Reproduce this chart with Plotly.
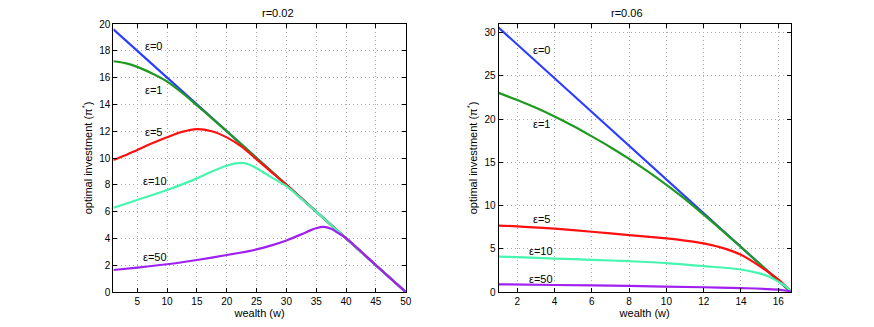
import plotly.graph_objects as go
from plotly.subplots import make_subplots

# ---------------- data: r = 0.02 (left panel) ----------------
L_eps0_x = [1, 50]
L_eps0_y = [19.6, 0]

L_eps1_x = [1, 3, 5, 7.5, 10, 12.5, 15, 17.5, 20, 25, 30, 40, 50]
L_eps1_y = [17.22, 17.08, 16.8, 16.3, 15.7, 14.87, 13.93, 12.97, 12.0, 10.0, 8.0, 4.0, 0]

L_eps5_x = [1, 3, 5, 7.5, 10, 12.5, 15, 17.5, 20, 22.5, 25, 27.5, 30, 40, 50]
L_eps5_y = [9.85, 10.2, 10.6, 11.1, 11.55, 11.95, 12.16, 12.0, 11.54, 10.85, 9.9, 8.95, 8.0, 4.0, 0]

L_eps10_x = [1, 5, 10, 15, 17.5, 18.75, 20, 21.25, 22.5, 23.75, 25, 26.25, 27.5, 30, 32.5, 35, 40, 50]
L_eps10_y = [6.29, 6.87, 7.61, 8.48, 9.0, 9.22, 9.42, 9.58, 9.64, 9.52, 9.24, 8.9, 8.55, 7.9, 6.96, 6.0, 4.0, 0]

L_eps50_x = [1, 5, 10, 15, 20, 25, 27.5, 30, 32.5, 34, 35, 36.2, 37.5, 38.5, 40, 45, 50]
L_eps50_y = [1.64, 1.82, 2.07, 2.39, 2.76, 3.18, 3.48, 3.85, 4.3, 4.6, 4.76, 4.86, 4.72, 4.45, 4.02, 2.0, 0]

# ---------------- data: r = 0.06 (right panel) ----------------
R_eps0_x = [1, 16.667]
R_eps0_y = [30.58, 0]

R_eps1_x = [1, 2, 3, 4, 5, 6, 7, 8, 9, 10, 11, 12, 13, 14, 15, 16, 16.667]
R_eps1_y = [23.03, 22.2, 21.3, 20.3, 19.2, 18.0, 16.75, 15.4, 13.95, 12.4, 10.75, 8.95, 7.1, 5.2, 3.25, 1.3, 0.05]

R_eps5_x = [1, 2, 4, 6, 8, 10, 11, 12, 13, 14, 15, 16, 16.667]
R_eps5_y = [7.67, 7.6, 7.32, 6.97, 6.58, 6.2, 5.95, 5.62, 5.1, 4.3, 3.0, 1.45, 0.1]

R_eps10_x = [1, 2, 4, 6, 8, 10, 12, 14, 15, 15.5, 16, 16.4, 16.667]
R_eps10_y = [4.1, 4.03, 3.87, 3.72, 3.56, 3.35, 3.0, 2.6, 2.15, 1.8, 1.2, 0.65, 0.1]

R_eps50_x = [1, 4, 8, 12, 14, 16, 16.667]
R_eps50_y = [0.89, 0.81, 0.7, 0.55, 0.45, 0.28, 0.08]

eps_labels = ["ε=0", "ε=1", "ε=5", "ε=10", "ε=50"]
L_label_x = [7.8, 7.8, 7.8, 8.0, 8.0]
L_label_y = [18.36, 15.07, 11.96, 8.32, 2.6]
R_label_x = [3.3, 3.3, 3.3, 3.3, 3.3]
R_label_y = [27.95, 19.47, 8.44, 4.78, 1.55]

L_xticks = [5, 10, 15, 20, 25, 30, 35, 40, 45, 50]
L_yticks = [0, 2, 4, 6, 8, 10, 12, 14, 16, 18, 20]
R_xticks = [2, 4, 6, 8, 10, 12, 14, 16]
R_yticks = [0, 5, 10, 15, 20, 25, 30]

titles = ["r=0.02", "r=0.06"]
colors = ["#2a3cff", "#1f9a1f", "#ff1010", "#45f5b0", "#a020f0"]

# the page body adds an 8px margin, so the figure is drawn 8px in from the corner
OFF = 8
W, H = 874 - 2 * OFF, 327 - 2 * OFF


def px_x(p):
    return (p - OFF) / W


def px_y(p):
    return 1 - (p - OFF) / H


fig = make_subplots(rows=1, cols=2)

left = [(L_eps0_x, L_eps0_y), (L_eps1_x, L_eps1_y), (L_eps5_x, L_eps5_y),
        (L_eps10_x, L_eps10_y), (L_eps50_x, L_eps50_y)]
right = [(R_eps0_x, R_eps0_y), (R_eps1_x, R_eps1_y), (R_eps5_x, R_eps5_y),
         (R_eps10_x, R_eps10_y), (R_eps50_x, R_eps50_y)]

for i, (xs, ys) in enumerate(left):
    fig.add_trace(go.Scatter(x=xs, y=ys, mode="lines", name=eps_labels[i],
                             line=dict(color=colors[i], width=2.2, shape="spline", smoothing=0.8),
                             showlegend=False), row=1, col=1)
for i, (xs, ys) in enumerate(right):
    fig.add_trace(go.Scatter(x=xs, y=ys, mode="lines", name=eps_labels[i],
                             line=dict(color=colors[i], width=2.2, shape="spline", smoothing=0.8),
                             showlegend=False), row=1, col=2)

font = "Liberation Sans, Arial, Helvetica, sans-serif"
ann = []
for i in range(5):
    ann.append(dict(x=L_label_x[i], y=L_label_y[i], xref="x", yref="y", text=eps_labels[i],
                    showarrow=False, font=dict(size=11, color="black", family=font)))
    ann.append(dict(x=R_label_x[i], y=R_label_y[i], xref="x2", yref="y2", text=eps_labels[i],
                    showarrow=False, font=dict(size=11, color="black", family=font)))
# panel titles
ann.append(dict(x=px_x((113.4 + 405.7) / 2), y=px_y(13), xref="paper", yref="paper", text=titles[0],
                showarrow=False, yanchor="middle", font=dict(size=11, color="black", family=font)))
ann.append(dict(x=px_x((498.6 + 790.7) / 2), y=px_y(13), xref="paper", yref="paper", text=titles[1],
                showarrow=False, yanchor="middle", font=dict(size=11, color="black", family=font)))

axis_common = dict(showline=True, linecolor="black", linewidth=1, mirror="ticks",
                   ticks="inside", ticklen=4, tickcolor="black", automargin=False,
                   showgrid=True, gridcolor="#a8a8a8", griddash="1px,3px", gridwidth=1,
                   zeroline=False, tickfont=dict(size=10, color="black", family=font),
                   title_font=dict(size=11, color="black", family=font))

ydom = [px_y(292), px_y(24)]
fig.update_layout(
    width=W, height=H, margin=dict(l=0, r=0, t=0, b=0, autoexpand=False),
    plot_bgcolor="white", paper_bgcolor="white",
    xaxis=dict(domain=[px_x(113.4), px_x(405.7)], range=[1, 50], tickvals=L_xticks,
               title=dict(text="wealth (w)", standoff=2), **axis_common),
    yaxis=dict(domain=ydom, range=[0, 20], tickvals=L_yticks,
               title=dict(text="optimal investment (π<sup>*</sup>)", standoff=4), **axis_common),
    xaxis2=dict(domain=[px_x(498.6), px_x(790.7)], range=[1, 16.667], tickvals=R_xticks,
                title=dict(text="wealth (w)", standoff=2), **axis_common),
    yaxis2=dict(domain=ydom, range=[0, 31], tickvals=R_yticks,
                title=dict(text="optimal investment (π<sup>*</sup>)", standoff=4), **axis_common),
    annotations=ann,
)

fig.write_html("out.html")
